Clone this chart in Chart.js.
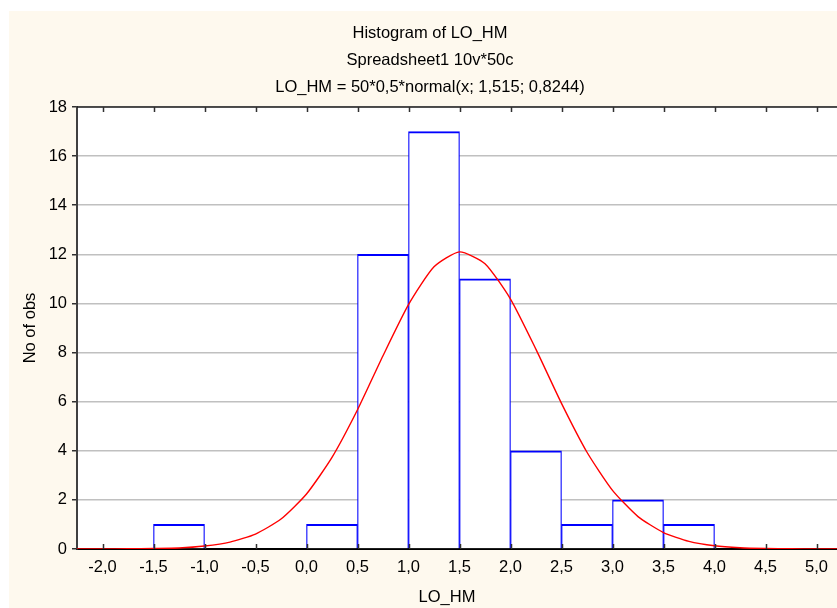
<!DOCTYPE html>
<html>
<head>
<meta charset="utf-8">
<script src="https://cdn.jsdelivr.net/npm/chart.js@4.4.1/dist/chart.umd.min.js"></script>
<style>
  body { margin: 0; overflow: hidden; background: #fff; }
  canvas { display: block; }
</style>
</head>
<body>
<canvas id="histo" width="860" height="608"></canvas>
<script>
// histogram bins (centres, width 0.5) and counts
var binCenters = [-1.25, -0.75, -0.25, 0.25, 0.75, 1.25, 1.75, 2.25, 2.75, 3.25, 3.75];
var binCounts = [1, 0, 0, 1, 12, 17, 11, 4, 1, 2, 1];

// fitted normal curve
var curveX = [-2.25, -2.0, -1.75, -1.5, -1.25, -1.0, -0.75, -0.5, -0.25, 0.0, 0.25, 0.5, 0.75, 1.0, 1.25, 1.5,
              1.75, 2.0, 2.25, 2.5, 2.75, 3.0, 3.25, 3.5, 3.75, 4.0, 4.25, 4.5, 4.75, 5.0, 5.25];
var curveY = [0.0, 0.0, 0.01, 0.02, 0.04, 0.12, 0.28, 0.61, 1.22, 2.24, 3.73, 5.67, 7.87, 9.95, 11.49, 12.1,
              11.62, 10.18, 8.13, 5.93, 3.94, 2.39, 1.32, 0.67, 0.31, 0.13, 0.05, 0.02, 0.01, 0.0, 0.0];

var xTicks = [-2.0, -1.5, -1.0, -0.5, 0.0, 0.5, 1.0, 1.5, 2.0, 2.5, 3.0, 3.5, 4.0, 4.5, 5.0];
var yTicks = [0, 2, 4, 6, 8, 10, 12, 14, 16, 18];

var titleLines = ['Histogram of LO_HM', 'Spreadsheet1 10v*50c', 'LO_HM = 50*0,5*normal(x; 1,515; 0,8244)'];

var FONT = '"Liberation Sans", Arial, sans-serif';

var frame = {
    id: 'frame',
    beforeDraw: function(chart) {
        var ctx = chart.ctx, a = chart.chartArea;
        ctx.save();
        ctx.fillStyle = '#ffffff';
        ctx.fillRect(0, 0, chart.width, chart.height);
        ctx.fillStyle = '#fef9ee';
        ctx.fillRect(9, 11, chart.width, chart.height);
        ctx.fillStyle = '#ffffff';
        ctx.fillRect(a.left, a.top, a.right - a.left, a.bottom - a.top);
        ctx.restore();
    },
    afterDraw: function(chart) {
        var ctx = chart.ctx, a = chart.chartArea, x = chart.scales.x;
        ctx.save();
        // top border
        ctx.strokeStyle = '#202020';
        ctx.lineWidth = 1.5;
        ctx.beginPath();
        ctx.moveTo(a.left, a.top);
        ctx.lineTo(a.right, a.top);
        ctx.stroke();
        // inward ticks on bottom and top
        ctx.strokeStyle = '#303030';
        ctx.lineWidth = 1.5;
        x.ticks.forEach(function(t) {
            var px = Math.round(x.getPixelForValue(t.value)) + 0.5;
            ctx.beginPath();
            ctx.moveTo(px, a.bottom);
            ctx.lineTo(px, a.bottom - 5);
            ctx.moveTo(px, a.top);
            ctx.lineTo(px, a.top + 5);
            ctx.stroke();
        });
        // titles
        ctx.fillStyle = '#000';
        ctx.font = '16.5px ' + FONT;
        ctx.textAlign = 'center';
        ctx.textBaseline = 'middle';
        ctx.fillText(titleLines[0], 430, 33);
        ctx.fillText(titleLines[1], 430, 60);
        ctx.fillText(titleLines[2], 430, 87);
        // axis titles
        ctx.fillText('LO_HM', 447, 597);
        ctx.translate(30, (a.top + a.bottom) / 2);
        ctx.rotate(-Math.PI / 2);
        ctx.fillText('No of obs', 0, 0);
        ctx.restore();
    }
};

var histData = binCenters.map(function(c, i) { return {x: c, y: binCounts[i]}; });
var curveData = curveX.map(function(v, i) { return {x: v, y: curveY[i]}; });

var histo = new Chart(document.getElementById('histo').getContext('2d'), {
    type: 'bar',
    data: {
        datasets: [{
            type: 'line',
            data: curveData,
            borderColor: '#ff0000',
            borderWidth: 1.4,
            pointRadius: 0,
            tension: 0.2,
            fill: false,
            order: 0
        }, {
            type: 'bar',
            data: histData,
            backgroundColor: '#ffffff',
            borderColor: '#0000ff',
            borderWidth: {top: 2, left: 1.2, right: 1.2, bottom: 0},
            barPercentage: 1,
            categoryPercentage: 1,
            grouped: false,
            order: 1
        }]
    },
    options: {
        responsive: false,
        animation: false,
        layout: { padding: { top: 107, right: 18, left: 0, bottom: 0 } },
        plugins: {
            legend: { display: false },
            tooltip: { enabled: false },
            title: { display: false }
        },
        scales: {
            x: {
                type: 'linear',
                offset: false,
                min: -2.25,
                max: 5.25,
                afterBuildTicks: function(scale) {
                    scale.ticks = xTicks.map(function(v) { return {value: v}; });
                },
                afterFit: function(scale) { scale.height = 59; },
                grid: { drawOnChartArea: false, drawTicks: false, offset: false },
                border: { color: '#000000', width: 2 },
                ticks: {
                    autoSkip: false,
                    maxRotation: 0,
                    padding: 9,
                    color: '#000',
                    font: { family: FONT, size: 16.5 },
                    callback: function(v) { return v.toFixed(1).replace('.', ','); }
                }
            },
            y: {
                min: 0,
                max: 18,
                afterBuildTicks: function(scale) {
                    scale.ticks = yTicks.map(function(v) { return {value: v}; });
                },
                afterFit: function(scale) { scale.width = 77; },
                grid: { color: '#c0c0c0', lineWidth: 1.5, tickColor: '#303030', tickLength: 5, tickWidth: 1.5 },
                border: { color: '#404040', width: 2 },
                ticks: {
                    padding: 5,
                    color: '#000',
                    font: { family: FONT, size: 16.5 }
                }
            }
        }
    },
    plugins: [frame]
});
</script>
</body>
</html>
